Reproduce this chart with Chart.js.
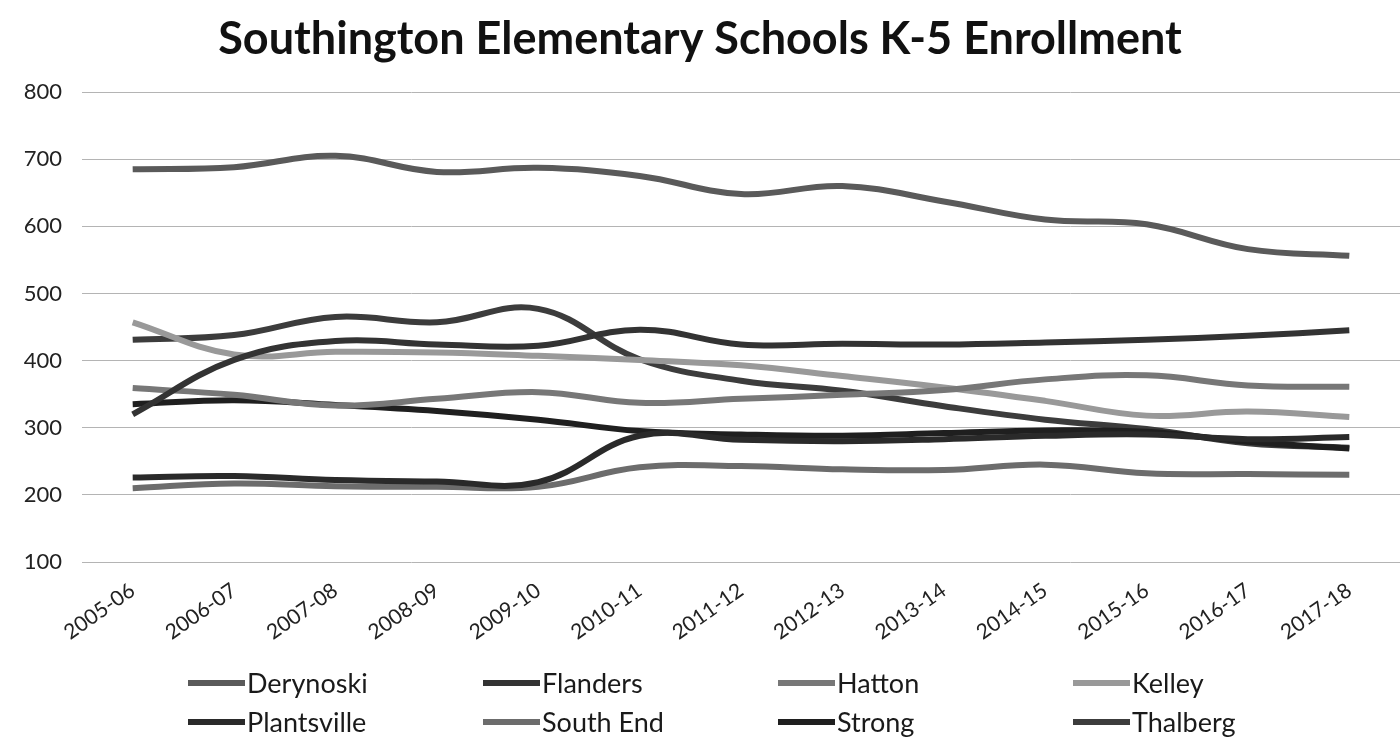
<!DOCTYPE html>
<html>
<head>
<meta charset="utf-8">
<title>Southington Elementary Schools K-5 Enrollment</title>
<script src="https://cdn.jsdelivr.net/npm/chart.js@4.4.1/dist/chart.umd.min.js"></script>
<style>
  body { margin: 0; background: #fff; }
  #wrap { position: relative; width: 1400px; height: 751px; }
  #legend {
    position: absolute; left: 188px; top: 663px;
    display: grid; grid-template-columns: repeat(4, 295px);
  }
  .item { display: flex; align-items: center; height: 39px; font: 27px Lato, sans-serif; color: #1a1a1a; }
  .swatch { width: 57px; height: 6px; margin-right: 2px; }
</style>
</head>
<body>
<div id="wrap">
  <canvas id="lineChart" width="1400" height="751"></canvas>
  <div id="legend"></div>
</div>
<script>
  var years = ["2005-06", "2006-07", "2007-08", "2008-09", "2009-10", "2010-11", "2011-12",
               "2012-13", "2013-14", "2014-15", "2015-16", "2016-17", "2017-18"];
  var yTicks = [100, 200, 300, 400, 500, 600, 700, 800];

  var derynoski   = [685, 688, 705, 681, 687, 675, 648, 660, 637, 610, 603, 566, 556];
  var flanders    = [320, 401, 429, 424, 422, 446, 424, 425, 424, 427, 431, 437, 445];
  var hatton      = [359, 349, 333, 343, 353, 337, 343, 349, 356, 372, 378, 363, 361];
  var kelley      = [457, 409, 413, 412, 407, 401, 393, 377, 360, 340, 318, 324, 316];
  var plantsville = [226, 228, 222, 220, 219, 288, 282, 280, 283, 288, 290, 283, 286];
  var southEnd    = [210, 217, 213, 212, 212, 241, 243, 238, 237, 245, 232, 231, 230];
  var strong      = [335, 341, 334, 325, 312, 295, 290, 288, 292, 296, 294, 279, 269];
  var thalberg    = [431, 438, 465, 457, 477, 402, 370, 355, 332, 312, 298, 277, 270];

  var names  = ["Derynoski", "Flanders", "Hatton", "Kelley", "Plantsville", "South End", "Strong", "Thalberg"];
  var series = [derynoski, flanders, hatton, kelley, plantsville, southEnd, strong, thalberg];
  var colors = ["#5a5a5a", "#333333", "#777777", "#999999", "#2a2a2a", "#6c6c6c", "#1f1f1f", "#3c3c3c"];

  var datasets = [];
  for (var i = 0; i < names.length; i++) {
    datasets.push({
      label: names[i],
      data: series[i],
      borderColor: colors[i],
      backgroundColor: colors[i],
      borderWidth: 6,
      pointRadius: 0,
      tension: 0.4,
      fill: false
    });
  }

  var ctx = document.getElementById("lineChart").getContext("2d");
  var myLineChart = new Chart(ctx, {
    type: "line",
    data: { labels: years, datasets: datasets },
    options: {
      responsive: false,
      animation: false,
      layout: { padding: { left: 0, right: 0, top: 0, bottom: 100 } },
      plugins: {
        legend: { display: false },
        tooltip: { enabled: false },
        title: {
          display: true,
          text: "Southington Elementary Schools K-5 Enrollment",
          color: "#111",
          font: { family: "Lato", size: 45, weight: "bold" },
          padding: { top: 12, bottom: 26 }
        }
      },
      scales: {
        x: {
          offset: true,
          grid: { display: false },
          border: { display: false },
          ticks: {
            color: "#222",
            font: { family: "Lato", size: 21 },
            minRotation: 35,
            maxRotation: 35,
            padding: 8
          },
          afterFit: function (scale) { scale.height = 89; }
        },
        y: {
          min: 100,
          max: 800,
          afterBuildTicks: function (scale) {
            scale.ticks = yTicks.map(function (v) { return { value: v }; });
          },
          grid: { color: "#b4b4b4", lineWidth: 1, drawTicks: false },
          border: { display: false },
          ticks: {
            color: "#222",
            font: { family: "Lato", size: 22 },
            padding: 20
          },
          afterFit: function (scale) { scale.width = 82; }
        }
      }
    }
  });

  var legend = document.getElementById("legend");
  for (var j = 0; j < names.length; j++) {
    var item = document.createElement("div");
    item.className = "item";
    item.innerHTML = '<span class="swatch" style="background:' + colors[j] + '"></span>' + names[j];
    legend.appendChild(item);
  }
</script>
</body>
</html>
